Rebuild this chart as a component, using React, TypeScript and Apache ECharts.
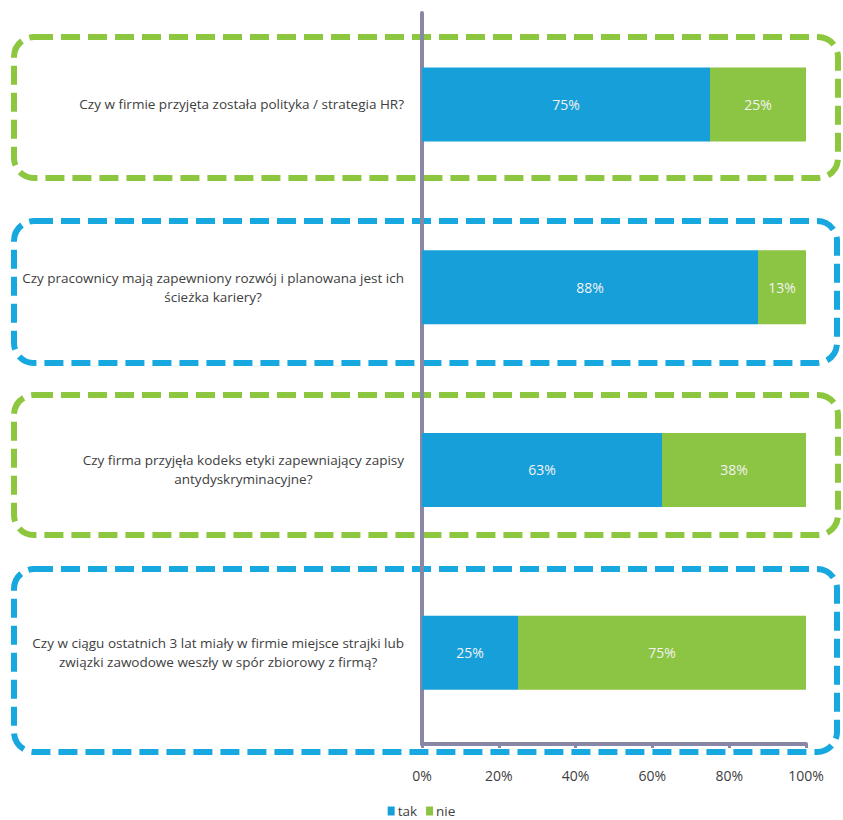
import React, { useEffect, useRef } from "react";
import * as echarts from "echarts";

const categories = [
  "Czy w firmie przyjęta została polityka / strategia HR?",
  "Czy pracownicy mają zapewniony rozwój i planowana jest ich\nścieżka kariery?",
  "Czy firma przyjęła kodeks etyki zapewniający zapisy\nantydyskryminacyjne?",
  "Czy w ciągu ostatnich 3 lat miały w firmie miejsce strajki lub\nzwiązki zawodowe weszły w spór zbiorowy z firmą?",
];
const takValues = [75, 87.5, 62.5, 25];
const nieValues = [25, 12.5, 37.5, 75];
const seriesNames = ["tak", "nie"];
const xTicks = [0, 20, 40, 60, 80, 100];

const BLUE = "#179FD9";
const GREEN = "#8CC443";
const BOX_BLUE = "#18A8E0";
const BOX_GREEN = "#8DC63F";
const AXIS = "#8888A6";
const FONT = "'Open Sans', sans-serif";

export default function App() {
  const ref = useRef<HTMLDivElement>(null);
  useEffect(() => {
    if (!ref.current) return;
    const chart = echarts.init(ref.current, undefined, { renderer: "svg" });
    const box = (x: number, y: number, w: number, h: number, color: string) => ({
      type: "rect",
      silent: true,
      z: 0,
      shape: { x, y, width: w, height: h, r: 20 },
      style: { fill: "none", stroke: color, lineWidth: 6, lineDash: [19, 8] },
    });
    const barLabel = {
      show: true,
      position: "inside",
      color: "#f2f2f2",
      fontSize: 14,
      fontFamily: FONT,
      formatter: (p: any) => Math.round(p.value) + "%",
    };
    chart.setOption({
      animation: false,
      textStyle: { fontFamily: FONT },
      grid: { left: 422, right: 37, top: 13, bottom: 76, containLabel: false },
      legend: {
        left: "center",
        top: 804,
        padding: 0,
        itemWidth: 7,
        itemHeight: 9,
        itemGap: 9,
        icon: "rect",
        data: seriesNames,
        textStyle: { color: "#404040", fontSize: 13.5, lineHeight: 14, fontFamily: FONT, padding: [0, 0, 0, -2] },
      },
      xAxis: {
        type: "value",
        min: xTicks[0],
        max: xTicks[xTicks.length - 1],
        interval: 20,
        splitLine: { show: false },
        axisLine: { show: true, lineStyle: { color: AXIS, width: 4, cap: "round" } },
        axisTick: { show: true, length: 4, lineStyle: { color: AXIS, width: 3 } },
        axisLabel: { formatter: "{value}%", color: "#404040", fontSize: 14, margin: 24, fontFamily: FONT },
      },
      yAxis: {
        type: "category",
        inverse: true,
        data: categories,
        axisLine: { show: true, lineStyle: { color: AXIS, width: 4, cap: "round" } },
        axisTick: { show: false },
        axisLabel: {
          margin: 18,
          align: "right",
          formatter: (v: string) => v.split("\n").map((l) => "{c|" + l + "}").join("\n"),
          rich: {
            c: { align: "center", color: "#404040", fontSize: 13.5, lineHeight: 19, fontFamily: FONT },
          },
        },
      },
      series: [
        {
          name: seriesNames[0],
          type: "bar",
          stack: "s",
          barWidth: 74,
          data: takValues,
          itemStyle: { color: BLUE },
          z: 3,
          label: barLabel,
        },
        {
          name: seriesNames[1],
          type: "bar",
          stack: "s",
          barWidth: 74,
          data: nieValues,
          itemStyle: { color: GREEN },
          z: 3,
          label: barLabel,
        },
      ],
      graphic: [
        box(14, 37, 824, 141, BOX_GREEN),
        box(14, 221, 823, 142, BOX_BLUE),
        box(14, 395, 824, 140, BOX_GREEN),
        box(14, 569, 823, 183, BOX_BLUE),
      ],
    });
    return () => chart.dispose();
  }, []);
  return <div ref={ref} style={{ width: 843, height: 820, position: "absolute", left: 0, top: 0 }} />;
}
